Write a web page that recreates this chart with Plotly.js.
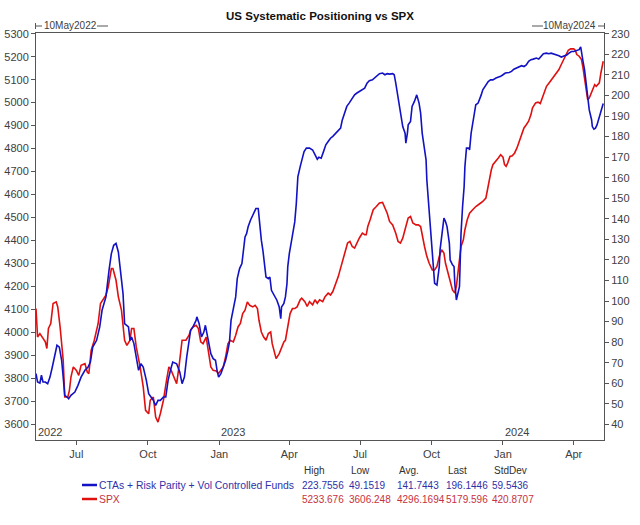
<!DOCTYPE html>
<html><head><meta charset="utf-8">
<script src="https://cdn.plot.ly/plotly-3.0.1.min.js"></script>
<style>html,body{margin:0;padding:0;background:#fff}</style>
</head><body><div id="chart" style="width:640px;height:525px"></div>
<script>
// ---------- DATA ----------
const spxDates = ['2022-05-10','2022-05-12','2022-05-15','2022-05-19','2022-05-22','2022-05-24','2022-05-26','2022-05-29','2022-06-01','2022-06-05','2022-06-07','2022-06-10','2022-06-14','2022-06-16','2022-06-20','2022-06-22','2022-06-24','2022-06-27','2022-07-01','2022-07-04','2022-07-07','2022-07-12','2022-07-15','2022-07-17','2022-07-20','2022-07-24','2022-07-29','2022-08-01','2022-08-04','2022-08-08','2022-08-11','2022-08-15','2022-08-17','2022-08-21','2022-08-24','2022-08-28','2022-09-01','2022-09-04','2022-09-08','2022-09-10','2022-09-13','2022-09-16','2022-09-21','2022-09-25','2022-09-28','2022-10-02','2022-10-04','2022-10-08','2022-10-11','2022-10-14','2022-10-17','2022-10-21','2022-10-25','2022-10-28','2022-10-31','2022-11-03','2022-11-07','2022-11-10','2022-11-14','2022-11-19','2022-11-23','2022-11-25','2022-11-28','2022-12-02','2022-12-05','2022-12-08','2022-12-11','2022-12-15','2022-12-18','2022-12-21','2022-12-24','2022-12-28','2022-12-31','2023-01-03','2023-01-06','2023-01-09','2023-01-12','2023-01-15','2023-01-19','2023-01-22','2023-01-25','2023-01-28','2023-01-31','2023-02-03','2023-02-06','2023-02-09','2023-02-13','2023-02-16','2023-02-19','2023-02-21','2023-02-24','2023-02-27','2023-03-02','2023-03-05','2023-03-08','2023-03-10','2023-03-13','2023-03-15','2023-03-19','2023-03-22','2023-03-25','2023-03-27','2023-03-30','2023-04-02','2023-04-05','2023-04-08','2023-04-11','2023-04-15','2023-04-17','2023-04-21','2023-04-24','2023-04-27','2023-05-01','2023-05-04','2023-05-07','2023-05-10','2023-05-14','2023-05-17','2023-05-21','2023-05-24','2023-05-27','2023-05-31','2023-06-03','2023-06-06','2023-06-09','2023-06-12','2023-06-15','2023-06-18','2023-06-21','2023-06-24','2023-06-27','2023-06-30','2023-07-04','2023-07-07','2023-07-09','2023-07-11','2023-07-14','2023-07-18','2023-07-22','2023-07-26','2023-07-30','2023-08-02','2023-08-05','2023-08-08','2023-08-12','2023-08-16','2023-08-19','2023-08-22','2023-08-25','2023-08-29','2023-09-01','2023-09-04','2023-09-07','2023-09-11','2023-09-14','2023-09-17','2023-09-19','2023-09-22','2023-09-25','2023-09-28','2023-10-02','2023-10-05','2023-10-08','2023-10-11','2023-10-14','2023-10-17','2023-10-19','2023-10-22','2023-10-25','2023-10-28','2023-10-31','2023-11-02','2023-11-04','2023-11-06','2023-11-08','2023-11-11','2023-11-13','2023-11-16','2023-11-19','2023-11-23','2023-11-27','2023-12-02','2023-12-06','2023-12-10','2023-12-12','2023-12-14','2023-12-17','2023-12-19','2023-12-23','2023-12-26','2023-12-29','2024-01-01','2024-01-03','2024-01-05','2024-01-07','2024-01-10','2024-01-13','2024-01-16','2024-01-19','2024-01-22','2024-01-25','2024-01-28','2024-01-31','2024-02-03','2024-02-06','2024-02-08','2024-02-12','2024-02-15','2024-02-18','2024-02-20','2024-02-23','2024-02-26','2024-03-01','2024-03-04','2024-03-07','2024-03-10','2024-03-13','2024-03-16','2024-03-19','2024-03-22','2024-03-25','2024-03-28','2024-04-01','2024-04-03','2024-04-05','2024-04-08','2024-04-11','2024-04-13','2024-04-15','2024-04-17','2024-04-19','2024-04-21','2024-04-24','2024-04-26','2024-04-28','2024-04-30','2024-05-02','2024-05-04','2024-05-06','2024-05-08','2024-05-09'];
const spxValues = [4104,3980,3995,3973,3959,3930,4017,4039,4126,4133,4111,4024,3879,3719,3719,3748,3806,3850,3835,3813,3857,3864,3828,3821,3922,3966,4039,4126,4140,4162,4198,4278,4278,4227,4155,4097,3966,3944,3966,4017,4017,3937,3850,3763,3661,3646,3705,3719,3632,3610,3646,3705,3792,3850,3835,3806,3777,3850,3966,3966,3988,4010,4024,4031,4017,3959,3951,3980,3922,3850,3835,3832,3821,3835,3850,3893,3951,3966,3959,3988,4024,4039,4082,4097,4133,4118,4111,4118,4104,4053,4002,3980,3966,3995,4002,3951,3908,3886,3908,3937,3959,3966,4024,4082,4104,4104,4111,4142,4149,4134,4113,4134,4120,4142,4127,4142,4134,4156,4171,4163,4178,4214,4243,4280,4316,4360,4389,4396,4374,4367,4389,4410,4432,4425,4425,4461,4490,4534,4548,4563,4566,4541,4519,4483,4468,4432,4396,4389,4410,4461,4498,4505,4476,4468,4468,4461,4418,4374,4331,4301,4272,4272,4287,4331,4360,4345,4301,4258,4214,4185,4171,4200,4258,4316,4374,4403,4447,4490,4519,4534,4548,4560,4570,4585,4621,4665,4708,4730,4744,4759,4773,4763,4730,4723,4737,4766,4769,4781,4803,4832,4868,4890,4904,4919,4948,4977,4999,5002,4996,5013,5042,5071,5089,5103,5115,5132,5144,5166,5187,5209,5228,5234,5234,5228,5209,5202,5187,5151,5100,5042,5013,5020,5049,5064,5078,5071,5078,5086,5129,5166,5180];

const ctaDates = ['2022-05-10','2022-05-12','2022-05-15','2022-05-17','2022-05-19','2022-05-22','2022-05-25','2022-05-28','2022-05-31','2022-06-03','2022-06-06','2022-06-09','2022-06-12','2022-06-14','2022-06-16','2022-06-19','2022-06-21','2022-06-24','2022-06-29','2022-07-03','2022-07-07','2022-07-12','2022-07-16','2022-07-19','2022-07-22','2022-07-27','2022-07-31','2022-08-03','2022-08-08','2022-08-12','2022-08-15','2022-08-18','2022-08-21','2022-08-24','2022-08-27','2022-08-30','2022-09-01','2022-09-04','2022-09-06','2022-09-08','2022-09-10','2022-09-13','2022-09-16','2022-09-19','2022-09-22','2022-09-25','2022-09-29','2022-10-02','2022-10-05','2022-10-08','2022-10-11','2022-10-14','2022-10-17','2022-10-21','2022-10-24','2022-10-27','2022-10-30','2022-11-02','2022-11-07','2022-11-11','2022-11-14','2022-11-17','2022-11-20','2022-11-23','2022-11-25','2022-11-28','2022-12-02','2022-12-03','2022-12-06','2022-12-09','2022-12-12','2022-12-14','2022-12-18','2022-12-21','2022-12-24','2022-12-27','2022-12-29','2022-12-31','2023-01-03','2023-01-06','2023-01-09','2023-01-12','2023-01-14','2023-01-16','2023-01-19','2023-01-22','2023-01-24','2023-01-27','2023-01-30','2023-02-01','2023-02-03','2023-02-05','2023-02-07','2023-02-10','2023-02-13','2023-02-17','2023-02-20','2023-02-22','2023-02-24','2023-02-26','2023-02-28','2023-03-02','2023-03-05','2023-03-07','2023-03-09','2023-03-11','2023-03-13','2023-03-16','2023-03-19','2023-03-21','2023-03-22','2023-03-25','2023-03-27','2023-03-29','2023-03-30','2023-04-01','2023-04-04','2023-04-06','2023-04-08','2023-04-10','2023-04-12','2023-04-15','2023-04-17','2023-04-20','2023-04-23','2023-04-27','2023-05-01','2023-05-04','2023-05-07','2023-05-09','2023-05-12','2023-05-15','2023-05-18','2023-05-21','2023-05-24','2023-05-27','2023-05-31','2023-06-03','2023-06-06','2023-06-08','2023-06-11','2023-06-14','2023-06-17','2023-06-21','2023-06-24','2023-06-27','2023-06-30','2023-07-04','2023-07-07','2023-07-10','2023-07-13','2023-07-17','2023-07-20','2023-07-23','2023-07-26','2023-07-30','2023-08-02','2023-08-05','2023-08-08','2023-08-12','2023-08-14','2023-08-16','2023-08-18','2023-08-19','2023-08-21','2023-08-23','2023-08-25','2023-08-28','2023-08-29','2023-08-31','2023-09-01','2023-09-04','2023-09-06','2023-09-09','2023-09-12','2023-09-15','2023-09-17','2023-09-19','2023-09-21','2023-09-24','2023-09-25','2023-09-27','2023-09-29','2023-10-01','2023-10-03','2023-10-05','2023-10-08','2023-10-11','2023-10-12','2023-10-15','2023-10-17','2023-10-19','2023-10-21','2023-10-24','2023-10-25','2023-10-28','2023-10-30','2023-10-31','2023-11-02','2023-11-06','2023-11-08','2023-11-10','2023-11-12','2023-11-13','2023-11-15','2023-11-18','2023-11-19','2023-11-21','2023-11-23','2023-11-25','2023-11-27','2023-11-30','2023-12-02','2023-12-04','2023-12-06','2023-12-10','2023-12-13','2023-12-16','2023-12-19','2023-12-23','2023-12-26','2023-12-29','2024-01-01','2024-01-04','2024-01-09','2024-01-12','2024-01-15','2024-01-18','2024-01-22','2024-01-25','2024-01-28','2024-01-31','2024-02-03','2024-02-06','2024-02-09','2024-02-13','2024-02-16','2024-02-19','2024-02-22','2024-02-26','2024-02-29','2024-03-03','2024-03-06','2024-03-10','2024-03-13','2024-03-16','2024-03-19','2024-03-23','2024-03-26','2024-03-29','2024-04-01','2024-04-04','2024-04-08','2024-04-10','2024-04-11','2024-04-13','2024-04-15','2024-04-17','2024-04-19','2024-04-21','2024-04-24','2024-04-25','2024-04-27','2024-04-29','2024-05-01','2024-05-03','2024-05-05','2024-05-07','2024-05-09'];
const ctaValues = [64.7,60.6,60.1,63.9,60.6,60.6,59.8,63.0,67.9,72.8,78.5,77.6,71.2,63.0,54.1,53.3,52.5,54.1,55.7,59.0,63.0,66.3,67.9,70.3,77.6,80.9,87.4,95.5,102.0,115.0,123.1,127.1,128.0,123.9,115.0,103.6,89.0,88.2,87.4,80.9,82.5,79.3,72.8,66.3,69.5,67.9,61.4,54.9,53.3,51.7,49.2,51.7,51.7,53.3,53.3,61.4,66.3,70.3,69.5,65.5,59.8,63.0,72.8,80.9,85.8,87.4,90.6,92.3,89.0,82.5,84.9,88.2,79.3,74.4,72.0,71.2,66.3,63.0,64.7,67.9,71.2,76.0,80.1,90.6,95.5,102.0,110.9,115.8,118.2,124.7,131.2,132.8,136.1,139.3,141.8,145.0,145.0,136.1,129.6,124.7,118.2,111.7,110.9,111.7,105.2,103.6,102.0,100.4,97.1,91.4,97.1,98.8,102.0,108.5,116.6,123.1,129.6,134.5,138.5,147.4,160.4,165.4,168.7,172.7,174.4,174.4,173.5,171.1,169.0,170.0,169.5,172.7,176.0,177.6,179.2,180.1,181.7,182.5,184.1,187.8,191.4,194.7,196.3,198.7,200.3,201.2,202.0,202.8,203.6,206.0,207.2,207.6,208.5,209.3,210.6,210.9,210.1,210.6,210.4,210.6,210.1,206.0,201.2,197.9,194.7,189.0,184.9,181.7,176.8,181.7,185.7,187.4,194.7,197.1,200.3,196.3,191.4,181.7,176.8,168.7,158.9,149.2,139.5,129.7,116.8,108.6,107.8,116.8,124.9,134.6,140.3,138.7,136.2,128.1,120.0,117.6,116.8,108.6,100.5,107.0,133.0,146.0,155.7,165.4,174.4,174.4,173.5,181.7,186.5,191.4,195.5,196.3,197.9,200.3,202.8,205.2,206.8,207.6,207.6,208.5,208.9,209.3,210.1,210.9,211.2,211.7,212.8,213.3,214.1,214.5,214.1,214.9,216.6,217.4,217.7,218.2,217.7,219.0,220.3,220.6,220.3,220.6,220.3,219.8,219.3,218.7,219.0,219.7,220.6,221.4,221.4,221.8,222.3,223.7,220.6,216.6,212.5,206.0,197.9,193.0,188.2,184.9,183.6,184.1,185.7,188.2,190.6,193.8,196.1];

const ctaName = 'CTAs + Risk Parity + Vol Controlled Funds';
const spxName = 'SPX';
const statHeaders = ['High','Low','Avg.','Last','StdDev'];
const ctaStats = ['223.7556','49.1519','141.7443','196.1446','59.5436'];
const spxStats = ['5233.676','3606.248','4296.1694','5179.596','420.8707'];
const yearLabels = ['2022','2023','2024'];
const yearStarts = ['2022-05-10','2023-01-01','2024-01-01'];
const startLabel = '10May2022';
const endLabel = '10May2024';
const titleText = 'US Systematic Positioning vs SPX';

// ---------- LAYOUT HELPERS ----------
const W = 640, H = 525;
const L = 36, R = 604, T = 33, B = 440;
const px = x => (x - L) / (R - L);
const py = y => (B - y) / (B - T);
const FONT = '"Liberation Sans", Arial, Helvetica, sans-serif';
const BLUE = '#1212c4', RED = '#e01010';
const BLUE_TXT = '#3030a8', RED_TXT = '#c83040';
const AX = '#555555', TXT = '#404040';

const traces = [
  {x: ctaDates, y: ctaValues, yaxis: 'y2', type: 'scatter', mode: 'lines', name: ctaName,
   line: {color: BLUE, width: 1.6}},
  {x: spxDates, y: spxValues, yaxis: 'y', type: 'scatter', mode: 'lines', name: spxName,
   line: {color: RED, width: 1.6}}
];

const ann = [];
const shapes = [];
function txt(x, y, text, color, size, anchor) {
  ann.push({xref: 'paper', yref: 'paper', x: px(x), y: py(y), text: text, showarrow: false,
    borderpad: 0, xanchor: anchor || 'left', yanchor: 'middle',
    font: {family: FONT, size: size, color: color}});
}
function seg(x0, y0, x1, y1, color, w) {
  shapes.push({type: 'line', xref: 'paper', yref: 'paper', x0: px(x0), y0: py(y0), x1: px(x1), y1: py(y1),
    line: {color: color, width: w || 1}});
}

// year labels inside plot
yearLabels.forEach((lab, i) => {
  ann.push({xref: 'x', yref: 'paper', x: yearStarts[i], y: 0, text: lab, showarrow: false,
    borderpad: 0, xanchor: 'left', yanchor: 'bottom', xshift: 1, yshift: 1,
    font: {family: FONT, size: 11, color: TXT}});
});

// top date markers
seg(35.5, 23, 35.5, 29, AX); seg(36, 26, 42, 26, AX);
txt(43, 26, startLabel, TXT, 10, 'left');
seg(97, 26, 108, 26, AX);
seg(532, 26, 543, 26, AX);
txt(597, 26, endLabel, TXT, 10, 'right');
seg(598, 26, 604, 26, AX); seg(604.5, 23, 604.5, 29, AX);

// legend table
const colX = [301, 348, 396, 444.5, 491];
statHeaders.forEach((h, i) => txt(colX[i] + 2, 470, h, '#303030', 10));
seg(82, 485, 97, 485, BLUE, 2.5);
txt(98, 485, ctaName, BLUE_TXT, 10.4);
ctaStats.forEach((s, i) => txt(colX[i], 485, s, BLUE_TXT, 10));
seg(82, 499, 97, 499, RED, 2.5);
txt(98, 499, spxName, RED_TXT, 10.4);
spxStats.forEach((s, i) => txt(colX[i], 499, s, RED_TXT, 10));

const layout = {
  width: W, height: H,
  margin: {l: L, r: W - R, t: T, b: H - B, pad: 0},
  paper_bgcolor: '#ffffff', plot_bgcolor: '#ffffff',
  showlegend: false,
  font: {family: FONT, size: 11, color: TXT},
  title: {text: '<b>' + titleText + '</b>', x: 0.5, xanchor: 'center', xref: 'paper',
          y: 1 - 16 / H, yanchor: 'middle', yref: 'container',
          font: {family: FONT, size: 11.5, color: '#111111'}},
  xaxis: {type: 'date', range: ['2022-05-10', '2024-05-10'], tick0: '2022-07-01', dtick: 'M3',
          tickformat: '%b', ticks: 'outside', ticklen: 4, tickcolor: AX, showline: true, linecolor: AX,
          linewidth: 1, mirror: true, showgrid: false, zeroline: false,
          tickfont: {family: FONT, size: 11, color: TXT}},
  yaxis: {range: [3532, 5303], tick0: 3600, dtick: 100, ticks: 'outside', ticklen: 4, tickcolor: AX,
          showline: true, linecolor: AX, linewidth: 1, showgrid: false, zeroline: false,
          tickfont: {family: FONT, size: 11, color: TXT}},
  yaxis2: {range: [32.4, 230.4], tick0: 40, dtick: 10, overlaying: 'y', side: 'right',
          ticks: 'outside', ticklen: 4, tickcolor: AX, showline: true, linecolor: AX, linewidth: 1,
          showgrid: false, zeroline: false, tickfont: {family: FONT, size: 11, color: TXT}},
  annotations: ann,
  shapes: shapes
};

Plotly.newPlot('chart', traces, layout, {staticPlot: true, displayModeBar: false});
</script>
</body></html>
